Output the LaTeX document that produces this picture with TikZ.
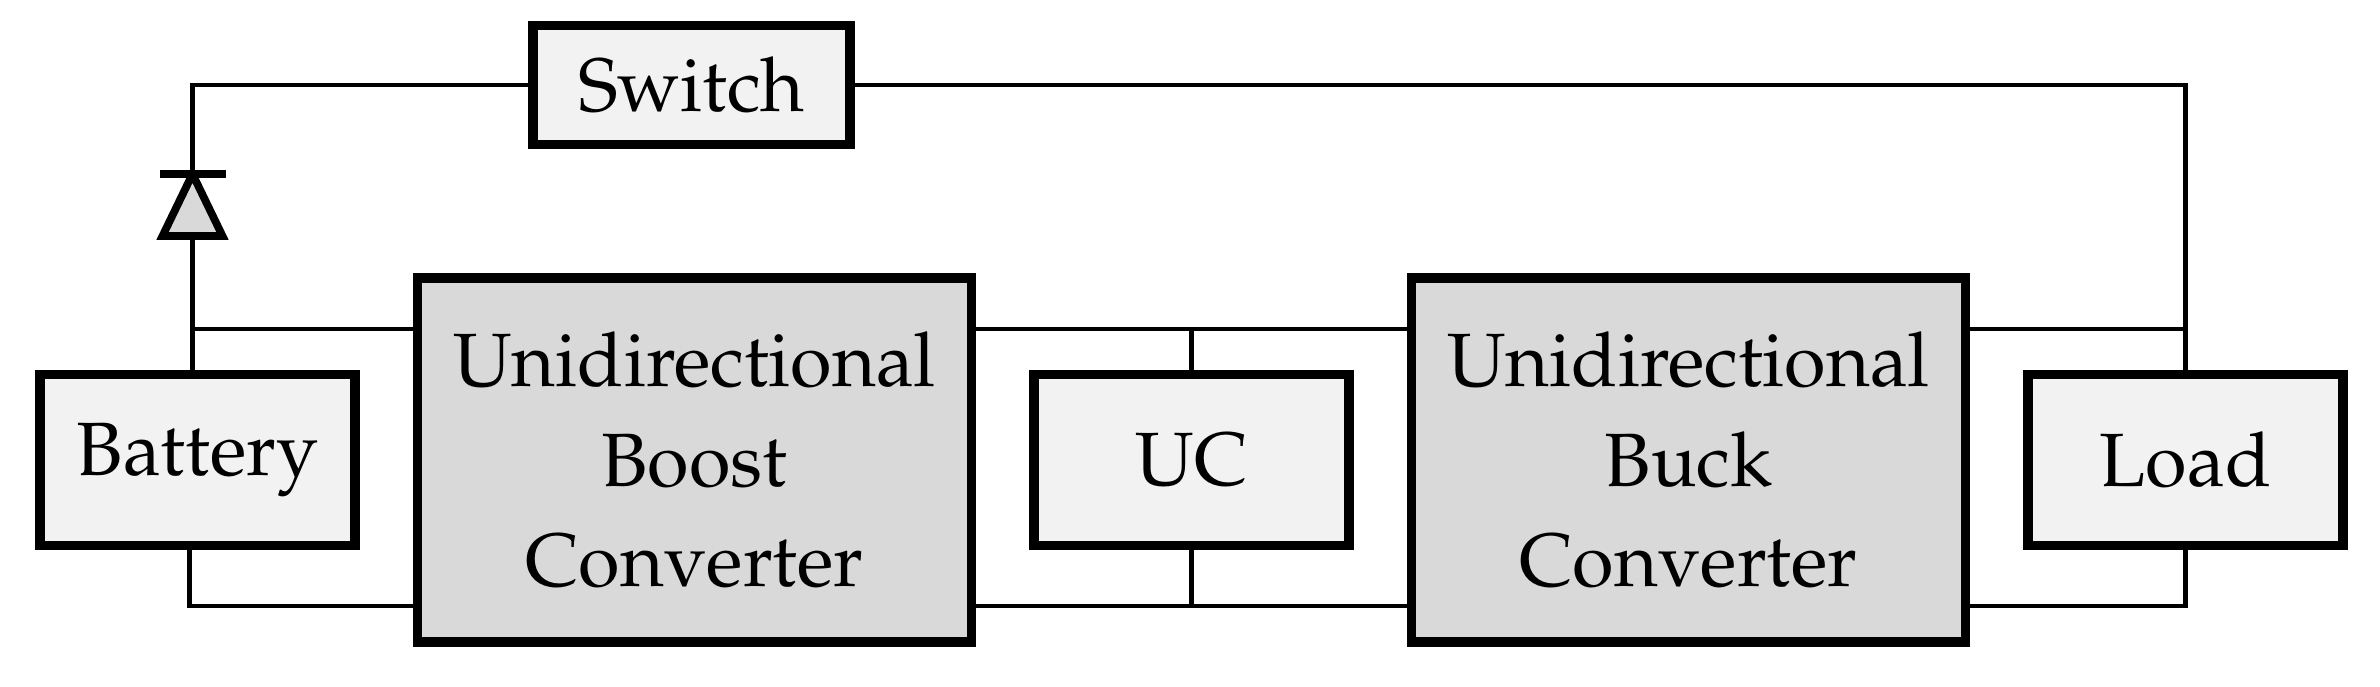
\documentclass[tikz,border=0pt]{standalone}
\usepackage[T1]{fontenc}
\usepackage{mathpazo}
\usetikzlibrary{positioning}
\definecolor{unitgray}{HTML}{F2F2F2}
\definecolor{convgray}{HTML}{D9D9D9}
\tikzset{
  unit/.style={draw, line width=2.8pt, fill=unitgray, minimum width=3.15cm,
    minimum height=1.71cm, font=\fontsize{21.5}{28.5}\selectfont},
  conv/.style={unit, fill=convgray, minimum width=5.54cm, minimum height=3.64cm, align=center},
  wire/.style={line width=1.3pt},
  diode/.style={line width=2.2pt, fill=convgray}
}
\begin{document}
\begin{tikzpicture}[node distance=4.97cm, on grid]
    \useasboundingbox (0,0) rectangle (23.8,6.87);
    \node[unit]  (bat)   at (1.975,2.27) {Battery};
    \node[conv]  (boost) [right=of bat]   {Unidirectional\\Boost\\Converter};
    \node[unit]  (uc)    [right=of boost] {UC};
    \node[conv]  (buck)  [right=of uc]    {Unidirectional\\Buck\\Converter};
    \node[unit]  (load)  [right=of buck]  {Load};
    \node[unit, minimum width=3.17cm, minimum height=1.19cm, xshift=-0.03cm] (sw) [above=3.75cm of boost] {Switch};
    \coordinate (top) at (0,3.58);
    \coordinate (bot) at (0,0.81);
    \coordinate (dA)  at ([xshift=-0.05cm]bat.north |- 0,4.51);
    \coordinate (dK)  at ([xshift=-0.05cm]bat.north |- 0,5.13);
    % dc bus
    \draw[wire] (dA |- top) -- (boost.west |- top)
                (boost.east |- top) -- (buck.west |- top)
                (uc.north) -- (uc.north |- top)
                (buck.east |- top) -- (load.north |- top);
    \draw[wire] ([xshift=-0.08cm]bat.south) |- (boost.west |- bot)
                (boost.east |- bot) -- (buck.west |- bot)
                (uc.south) -- (uc.south |- bot)
                (buck.east |- bot) -| (load.south);
    % diode and switch path
    \draw[wire] (dA |- bat.north) -- (dA);
    \draw[wire] (dK) |- (sw.west);
    \draw[wire] (sw.east) -| (load.north);
    \draw[diode] ([xshift=-0.3cm]dA) -- ([xshift=0.3cm]dA) -- (dK) -- cycle;
    \draw[line width=2.2pt] ([xshift=-0.33cm]dK) -- ([xshift=0.33cm]dK);
\end{tikzpicture}
\end{document}
